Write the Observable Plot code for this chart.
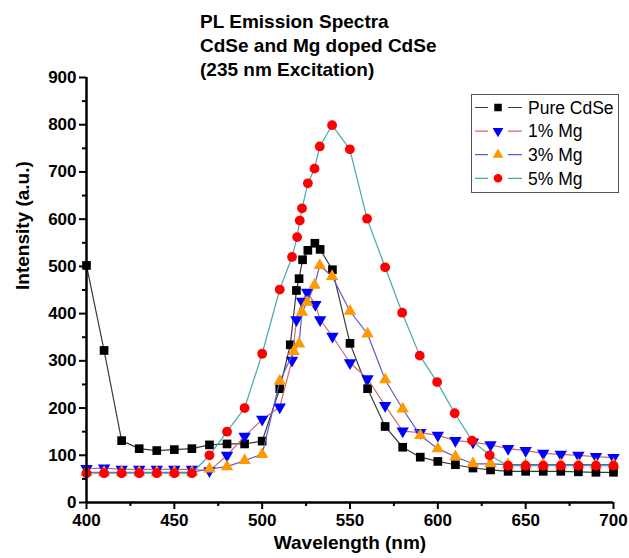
<!DOCTYPE html>
<html>
<head>
<meta charset="utf-8">
<script src="https://cdn.jsdelivr.net/npm/d3@7"></script>
<script src="https://cdn.jsdelivr.net/npm/@observablehq/plot@0.6"></script>
<style>
  html, body { margin: 0; padding: 0; background: #fff; }
  #wrap { position: relative; width: 629px; height: 558px; font-family: "Liberation Sans", Arial, sans-serif; }
  #title { position: absolute; left: 200px; top: 10px; font-size: 19px; font-weight: bold; line-height: 24px; color: #000; white-space: nowrap; }
  #legend { position: absolute; left: 471px; top: 94px; }
</style>
</head>
<body>
<div id="wrap">
  <div id="chart"></div>
  <div id="title"></div>
  <div id="legend"></div>
</div>
<script>
// ---- data ----
const titleLines = ["PL Emission Spectra", "CdSe and Mg doped CdSe", "(235 nm Excitation)"];
const xLabel = "Wavelength (nm)";
const yLabel = "Intensity (a.u.)";
const xTicks = [400, 450, 500, 550, 600, 650, 700];
const xMinor = [425, 475, 525, 575, 625, 675];
const yTicks = [0, 100, 200, 300, 400, 500, 600, 700, 800, 900];
const yMinor = [50, 150, 250, 350, 450, 550, 650, 750, 850];

const seriesNames = ["Pure CdSe", "1% Mg", "3% Mg", "5% Mg"];

const pureX = [400,410,420,430,440,450,460,470,480,490,500,510,516,519.5,521,523,526,530,533,540,550,560,570,580,590,600,610,620,630,640,650,660,670,680,690,700];
const pureY = [502,322,131,114,110,112,114,122,124,124,130,241,334,449,474,514,534,549,536,493,337,241,161,117,96,87,80,73,69,66,66,66,66,65,64,64];

const mg1X = [400,410,420,430,440,450,460,470,480,490,500,510,517,519.5,522.7,525.6,530.3,533,540,550,560,570,580,590,600,610,620,630,640,650,660,670,680,690,700];
const mg1Y = [72,73,70,70,70,70,70,67,100,140,176,202,301,387,426,445,419,387,352,296,262,205,151,148,142,131,128,122,114,110,104,102,100,97,95];

const mg3X = [400,410,420,430,440,450,460,470,480,490,500,510,518,521,522.7,525.6,529.8,532.8,539.8,550,560,570,580,590,600,610,620,630,640,650,660,670,680,690,700];
const mg3Y = [64,64,64,64,64,64,64,71,76,89,102,257,320,336,403,424,460,502,479,405,357,260,198,142,114,97,82,82,80,80,80,80,80,80,80];

const mg5X = [400,410,420,430,440,450,460,470,480,490,500,510,517,519.9,521.4,522.7,526,529.8,532.8,539.8,549.9,559.7,570,579.7,589.7,599.6,609.6,619.5,629.5,640,650,660,670,680,690,700];
const mg5Y = [62,62,62,62,62,62,62,100,150,200,315,451,520,562,597,623,676,707,754,799,748,601,498,402,311,255,189,131,100,78,78,78,78,78,78,78];

// ---- styles ----
const lineColors = ["#3a3a3a", "#d06a6a", "#5a5ad6", "#4aa8a8"];
const markColors = ["#000000", "#0000ff", "#ff9900", "#ff0000"];

const triangleDown = {
  draw(context, size) {
    const s3 = Math.sqrt(3);
    const y = -Math.sqrt(size / (s3 * 3));
    context.moveTo(0, -y * 2);
    context.lineTo(-s3 * y, y);
    context.lineTo(s3 * y, y);
    context.closePath();
  }
};
const symbols = [d3.symbolSquare, triangleDown, d3.symbolTriangle, d3.symbolCircle];
const radii = [4.9, 4.6, 4.6, 4.9];

const xs = [pureX, mg1X, mg3X, mg5X];
const ys = [pureY, mg1Y, mg3Y, mg5Y];
const tables = xs.map((xa, i) => xa.map((x, j) => ({x, y: ys[i][j]})));

const seriesMarks = tables.flatMap((t, i) => [
  Plot.line(t, {x: "x", y: "y", stroke: lineColors[i], strokeWidth: 1.2}),
  Plot.dot(t, {x: "x", y: "y", symbol: symbols[i], r: radii[i], fill: markColors[i], stroke: "none"})
]);

const chart = Plot.plot({
  width: 629,
  height: 558,
  marginLeft: 86,
  marginRight: 16,
  marginTop: 77,
  marginBottom: 56,
  style: {fontFamily: "'Liberation Sans', Arial, sans-serif", background: "white", color: "black"},
  x: {domain: [400, 700]},
  y: {domain: [0, 900]},
  marks: [
    ...seriesMarks,
    Plot.axisY({ticks: yMinor, tickSize: 4, text: null, label: null, strokeWidth: 2}),
    Plot.axisY({ticks: yTicks, tickSize: 7, tickPadding: 3, label: null, fontSize: 17, fontWeight: "bold", strokeWidth: 2}),
    Plot.axisX({ticks: xMinor, tickSize: 4, text: null, label: null, strokeWidth: 2}),
    Plot.axisX({ticks: xTicks, tickSize: 7, tickPadding: 4, label: null, fontSize: 17, fontWeight: "bold", strokeWidth: 2}),
    Plot.ruleX([400], {stroke: "black", strokeWidth: 2.5}),
    Plot.ruleY([0], {stroke: "black", strokeWidth: 2.5}),
    Plot.text([yLabel], {frameAnchor: "left", dx: -64, rotate: -90, fontSize: 19, fontWeight: "bold", fill: "black"}),
    Plot.text([xLabel], {frameAnchor: "bottom", dy: 46, fontSize: 19, fontWeight: "bold", fill: "black"})
  ]
});
document.getElementById("chart").appendChild(chart);

// title
document.getElementById("title").innerHTML = titleLines.map(t => `<div>${t}</div>`).join("");

// legend
(function() {
  const W = 148, H = 99, rowH = 23.6, y0 = 13.5;
  const svg = d3.select("#legend").append("svg").attr("width", W).attr("height", H);
  svg.append("rect").attr("x", 0.5).attr("y", 0.5).attr("width", W - 1).attr("height", H - 1)
    .attr("fill", "white").attr("stroke", "#555").attr("stroke-width", 1);
  seriesNames.forEach((name, i) => {
    const cy = y0 + i * rowH;
    const g = svg.append("g");
    g.append("line").attr("x1", 4).attr("x2", 51).attr("y1", cy).attr("y2", cy)
      .attr("stroke", lineColors[i]).attr("stroke-width", 1.2);
    g.append("rect").attr("x", 17).attr("y", cy - 5).attr("width", 20).attr("height", 10).attr("fill", "white");
    const sym = d3.symbol(symbols[i], Math.PI * radii[i] * radii[i] * 0.75);
    g.append("path").attr("d", sym()).attr("transform", `translate(27,${cy})`).attr("fill", markColors[i]);
    g.append("text").attr("x", 57).attr("y", cy).attr("dy", "0.36em")
      .attr("font-family", "'Liberation Sans', Arial, sans-serif").attr("font-size", 17.5).attr("fill", "black").text(name);
  });
})();
</script>
</body>
</html>
